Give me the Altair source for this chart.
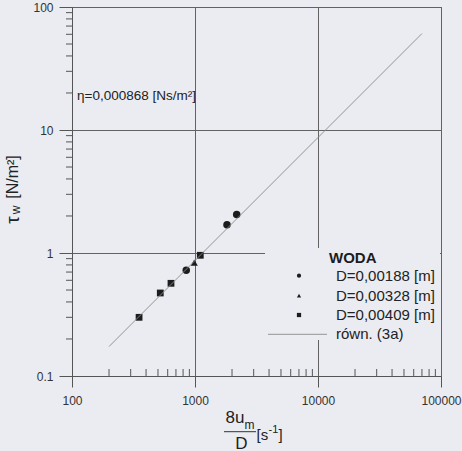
import altair as alt
import pandas as pd

# ---- data ----
circle_x = [849, 1820, 2183]
circle_y = [0.723, 1.70, 2.06]
tri_x = [986]
tri_y = [0.834]
square_x = [351, 522, 638, 1104]
square_y = [0.300, 0.473, 0.567, 0.958]
series_labels = ["D=0,00188 [m]", "D=0,00328 [m]", "D=0,00409 [m]"]
line_label = "równ. (3a)"
legend_title = "WODA"
eq_x = [200, 70000]
eq_y = [0.1736, 60.8]
x_ticks = [100, 1000, 10000, 100000]
y_ticks = [0.1, 1, 10, 100]
x_minor = [k * 10 ** e for e in (2, 3, 4) for k in range(2, 10)]
y_minor = [k * 10.0 ** e for e in (-1, 0, 1) for k in range(2, 10)]
annotation = "η=0,000868 [Ns/m²]"

BG = "#eaecf2"
INK = "#1c1c1c"
AX = "#555555"
FONT = "Liberation Sans"

pts = pd.DataFrame({
    "x": circle_x + tri_x + square_x,
    "y": circle_y + tri_y + square_y,
    "s": [series_labels[0]] * len(circle_x) + [series_labels[1]] * len(tri_x)
         + [series_labels[2]] * len(square_x),
})
eq = pd.DataFrame({"x": eq_x, "y": eq_y})
one = pd.DataFrame({"a": [0]})

xs = alt.Scale(type="log", domain=[100, 100000], nice=False)
ys = alt.Scale(type="log", domain=[0.1, 100], nice=False)

xaxis = alt.Axis(values=x_ticks, format="~g", grid=True, gridColor="#626262", gridWidth=1,
                 tickSize=11, tickColor=AX, domainColor=AX, labelFont=FONT, labelFontSize=12,
                 labelColor="#333333", labelPadding=8, title=None, labelFlush=False)
yaxis = alt.Axis(values=y_ticks, format="~g", grid=True, gridColor="#626262", gridWidth=1,
                 tickSize=13, tickColor=AX, domainColor=AX, labelFont=FONT, labelFontSize=12,
                 labelColor="#333333", labelPadding=6, title=None, labelFlush=False)

points = alt.Chart(pts).mark_point(filled=True, opacity=1, color=INK).encode(
    x=alt.X("x:Q", scale=xs, axis=xaxis),
    y=alt.Y("y:Q", scale=ys, axis=yaxis),
    shape=alt.Shape("s:N", scale=alt.Scale(domain=series_labels,
                                           range=["circle", "triangle-up", "square"]), legend=None),
    size=alt.Size("s:N", scale=alt.Scale(domain=series_labels, range=[56, 46, 56]), legend=None),
)

eqline = alt.Chart(eq).mark_line(color="#8a8a8a", strokeWidth=0.9).encode(
    x=alt.X("x:Q", scale=xs, axis=xaxis), y=alt.Y("y:Q", scale=ys, axis=yaxis))

xminor = alt.Chart(pd.DataFrame({"v": x_minor})).mark_rule(color=AX).encode(
    x=alt.X("v:Q", scale=xs, axis=xaxis), y=alt.value(362), y2=alt.value(369))
yminor = alt.Chart(pd.DataFrame({"v": y_minor})).mark_rule(color=AX).encode(
    y=alt.Y("v:Q", scale=ys, axis=yaxis), x=alt.value(-6), x2=alt.value(0))

# legend (drawn by hand)
leg_bg = alt.Chart(one).mark_rect(color=BG).encode(
    x=alt.value(193), x2=alt.value(368), y=alt.value(241), y2=alt.value(333))
leg_title = alt.Chart(one).mark_text(font=FONT, fontSize=15, fontWeight="bold", color=INK,
                                     align="left", baseline="middle").encode(
    x=alt.value(257), y=alt.value(251), text=alt.value(legend_title))
leg_layers = [leg_bg, leg_title]
shapes = ["circle", "triangle-up", "square"]
rows_y = [268.7, 288.7, 308]
for lab, shp, yy in zip(series_labels, shapes, rows_y):
    leg_layers.append(alt.Chart(one).mark_point(filled=True, opacity=1, color=INK, shape=shp,
                                                size=18).encode(
        x=alt.value(227), y=alt.value(yy)))
    leg_layers.append(alt.Chart(one).mark_text(font=FONT, fontSize=15, color="#222222",
                                               align="left", baseline="middle").encode(
        x=alt.value(264), y=alt.value(yy), text=alt.value(lab)))
leg_layers.append(alt.Chart(one).mark_rule(color="#8a8a8a", strokeWidth=0.9).encode(
    x=alt.value(196), x2=alt.value(255), y=alt.value(327.3)))
leg_layers.append(alt.Chart(one).mark_text(font=FONT, fontSize=15, color="#222222",
                                           align="left", baseline="middle").encode(
    x=alt.value(264), y=alt.value(327.3), text=alt.value(line_label)))

note = alt.Chart(one).mark_text(font=FONT, fontSize=13.5, color="#222222", align="left",
                                baseline="middle").encode(
    x=alt.value(5), y=alt.value(89), text=alt.value(annotation))


def txt(s, x, y, size, align="center", angle=0):
    return alt.Chart(one).mark_text(font=FONT, fontSize=size, color="#222222", align=align,
                                    baseline="middle", angle=angle).encode(
        x=alt.value(x), y=alt.value(y), text=alt.value(s))


# x-axis title: 8u_m / D [s^-1]
xt = [
    txt("8u", 163, 411, 17),
    txt("m", 177.5, 418, 12),
    alt.Chart(one).mark_rule(color="#333333", strokeWidth=1).encode(
        x=alt.value(152), x2=alt.value(184), y=alt.value(424.7)),
    txt("D", 169.5, 436.5, 17),
    txt("[s", 184.5, 428, 15, "left"),
    txt("-1", 196.5, 423, 11, "left"),
    txt("]", 206.5, 428, 15, "left"),
]
# y-axis title: tau_w [N/m^2]
yt = [
    txt("τ", -59, 213, 19, "center", 270),
    txt("w", -56, 203, 12, "center", 270),
    txt("[N/m²]", -59, 170, 16, "center", 270),
]

chart = alt.layer(points, xminor, yminor, eqline, *leg_layers, note, *xt, *yt).properties(
    width=369, height=369,
    padding={"left": 72, "top": 7, "right": 21, "bottom": 75},
    autosize="none",
).configure(background=BG).configure_view(stroke=AX, strokeWidth=1, fill=BG)

chart.save("out.html", embed_options={"renderer": "svg", "actions": False})
